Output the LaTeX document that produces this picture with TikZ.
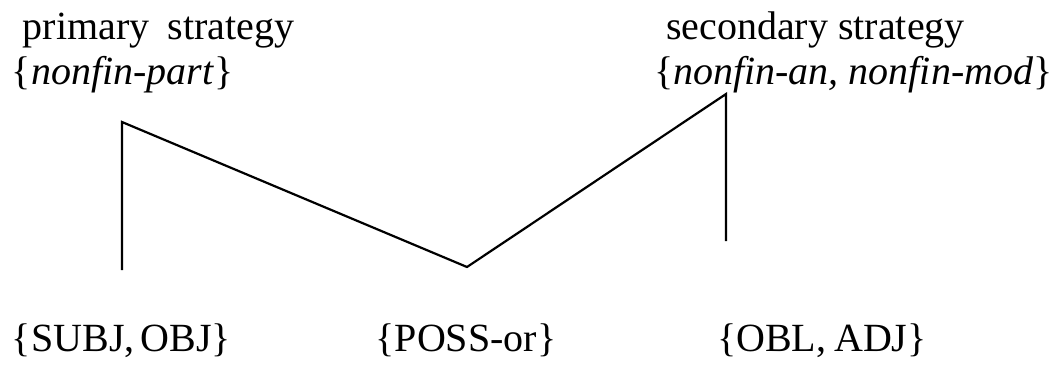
\documentclass[tikz,border=0pt]{standalone}
\usepackage{fontspec}
\setmainfont{Liberation Serif}
\begin{document}
\begin{tikzpicture}[x=1pt,y=-1pt,
  lbl/.style={inner sep=0pt,outer sep=0pt,font=\fontsize{40}{47}\selectfont},
  tree/.style={line width=2.2pt,line join=miter,line cap=butt,black}]
\useasboundingbox (0,0) rectangle (1057,370);
\node[lbl,anchor=base west] (ps) at (23,39) {primary\hspace{0.45em}strategy};
\node[lbl,anchor=base west] (pf) at (12,84) {\{\textit{nonfin-part}\}};
\node[lbl,anchor=base west] (ss) at (666,39) {secondary strategy};
\node[lbl,anchor=base west] (sf) at (654,84) {\{\textit{nonfin-an, nonfin-mod}\}};
\node[lbl,anchor=base west] (so) at (12,351) {\{SUBJ,\hspace{0.15em}OBJ\}};
\node[lbl,anchor=base] (po) at (466,351) {\{POSS-or\}};
\node[lbl,anchor=base west] (oa) at (717,351) {\{OBL,\hspace{0.2em}ADJ\}};
\coordinate (a) at (122,270);
\coordinate (b) at (122,122);
\coordinate (c) at (467,267);
\coordinate (d) at (726,94);
\coordinate (e) at (726,241);
\draw[tree] (a) -- (b) -- (c) -- (d) -- (e);
\end{tikzpicture}
\end{document}
